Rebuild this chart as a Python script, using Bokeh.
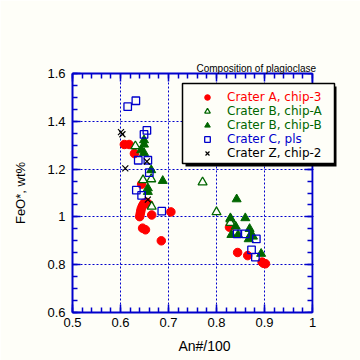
from bokeh.plotting import figure
from bokeh.models import (FixedTicker, LinearAxis, Range1d, Legend, LegendItem,
                          BoxAnnotation, CustomJSTickFormatter)
from bokeh.embed import file_html
from bokeh.resources import INLINE
import numpy as np

# ---- data ----
a_x = [0.608, 0.618, 0.629, 0.644, 0.640, 0.641, 0.642, 0.643, 0.645, 0.647, 0.649, 0.654, 0.659,
       0.665, 0.705, 0.646, 0.652, 0.685, 0.827, 0.844, 0.865, 0.895, 0.898, 0.902]
a_y = [1.303, 1.303, 1.265, 1.137, 1.001, 1.012, 1.022, 1.032, 1.043, 1.050, 1.057, 1.061, 1.053,
       1.008, 1.021, 0.953, 0.946, 0.900, 0.957, 0.851, 0.838, 0.811, 0.806, 0.804]

ba_x = [0.631, 0.647, 0.664, 0.665, 0.771, 0.800, 0.829, 0.829]
ba_y = [1.296, 1.154, 1.158, 1.043, 1.145, 1.020, 0.990, 0.975]

bb_x = [0.649, 0.649, 0.643, 0.649, 0.664, 0.688, 0.657, 0.657, 0.842, 0.860, 0.829, 0.840,
        0.831, 0.845, 0.869, 0.871, 0.867, 0.876, 0.893]
bb_y = [1.321, 1.303, 1.279, 1.268, 1.196, 1.151, 1.120, 1.105, 1.074, 0.995, 0.995, 0.960,
        0.925, 0.925, 0.950, 0.925, 0.907, 0.918, 0.846]

c_x = [0.615, 0.632, 0.655, 0.649, 0.637, 0.657, 0.660, 0.633, 0.644, 0.686, 0.843, 0.860,
       0.883, 0.873, 0.881]
c_y = [1.461, 1.486, 1.362, 1.345, 1.237, 1.237, 1.185, 1.112, 1.090, 1.024, 0.929, 0.929,
       0.908, 0.862, 0.832]

z_x = [0.601, 0.604, 0.610, 0.655, 0.657]
z_y = [1.355, 1.346, 1.203, 1.232, 1.072]

labels = ["Crater A, chip-3", "Crater B, chip-A", "Crater B, chip-B", "Crater C, pls", "Crater Z, chip-2"]

x_ticks = [0.5, 0.6, 0.7, 0.8, 0.9, 1.0]
x_tick_labels = ["0.5", "0.6", "0.7", "0.8", "0.9", "1"]
y_ticks = [0.6, 0.8, 1.0, 1.2, 1.4, 1.6]
y_tick_labels = ["0.6", "0.8", "1", "1.2", "1.4", "1.6"]

# ---- style ----
BG = "#fefef8"
BLUE = "#0000cc"
RED = "#ff0000"
GREEN = "#006600"
FONT = "Liberation Sans"
LEG_FONT = "DejaVu Sans"

# frame extends a little past x=1 so that the legend text (which overhangs the
# axes box) is not clipped; axes/grid are bounded to 0.5..1.0
p = figure(width=360, height=360,
           x_range=Range1d(0.5, 1.05), y_range=Range1d(0.6, 1.6),
           output_backend="svg", toolbar_location=None,
           min_border_left=72, min_border_right=24, min_border_top=73, min_border_bottom=48,
           background_fill_color=BG, border_fill_color=BG)
p.outline_line_color = None

p.title.text = "Composition of plagioclase"
p.title.align = "left"
p.title.offset = 124
p.title.text_font = FONT
p.title.text_font_size = "10px"
p.title.text_font_style = "normal"
p.title.text_color = "black"
p.title.standoff = 0

x_minor = [round(v, 3) for v in np.arange(0.5, 1.0001, 0.02)]
y_minor = [round(v, 3) for v in np.arange(0.6, 1.6001, 0.05)]
xt = FixedTicker(ticks=x_ticks, minor_ticks=x_minor)
yt = FixedTicker(ticks=y_ticks, minor_ticks=y_minor)


def style_axis(ax, ticker, overrides=None):
    ax.ticker = ticker
    ax.axis_line_color = BLUE
    ax.axis_line_width = 2
    ax.major_tick_line_color = BLUE
    ax.minor_tick_line_color = BLUE
    ax.major_tick_line_width = 1.5
    ax.minor_tick_line_width = 1.5
    ax.major_tick_in = 8
    ax.major_tick_out = 0
    ax.minor_tick_in = 5
    ax.minor_tick_out = 0
    ax.major_label_text_font = FONT
    ax.major_label_text_font_size = "13px"
    ax.major_label_text_color = "black"
    ax.axis_label_text_font = FONT
    ax.axis_label_text_font_style = "normal"
    ax.axis_label_text_color = "black"
    if overrides is not None:
        ax.major_label_overrides = overrides


xa = p.xaxis[0]
ya = p.yaxis[0]
style_axis(xa, xt, dict(zip(x_ticks, x_tick_labels)))
style_axis(ya, yt, dict(zip(y_ticks, y_tick_labels)))
xa.bounds = (0.5, 1.0)
xa.axis_label = "An#/100"
ya.axis_label = "FeO*, wt%"
xa.axis_label_text_font_size = "14px"
ya.axis_label_text_font_size = "13px"
xa.major_label_standoff = 5
ya.major_label_standoff = 7
xa.axis_label_standoff = 8
ya.axis_label_standoff = 16

top = LinearAxis(bounds=(0.5, 1.0))
right = LinearAxis(fixed_location=1.0)
style_axis(top, xt)
style_axis(right, yt)
for ax in (top, right):
    ax.formatter = CustomJSTickFormatter(code="return ''")
    ax.major_label_standoff = 0
p.add_layout(top, "above")
p.add_layout(right, "right")

for g in (p.xgrid[0], p.ygrid[0]):
    g.grid_line_color = BLUE
    g.grid_line_dash = "2 2"
    g.grid_line_width = 1
p.xgrid[0].ticker = xt
p.ygrid[0].ticker = yt

# ---- points ----
r_a = p.scatter(a_x, a_y, marker="circle", size=8.5, fill_color=RED, line_color=RED)
r_ba = p.scatter(ba_x, ba_y, marker="triangle", size=9, fill_color=BG, line_color=GREEN, line_width=1.3)
r_bb = p.scatter(bb_x, bb_y, marker="triangle", size=9, fill_color=GREEN, line_color=GREEN)
r_c = p.scatter(c_x, c_y, marker="square", size=7.5, fill_color=None, line_color=BLUE, line_width=1.3)
r_z = p.scatter(z_x, z_y, marker="x", size=8.5, line_color="black", line_width=1.2)

# hide the part of the frame beyond x = 1 (grid overhang)
cover = BoxAnnotation(left=1.0 + 1.2 / 480, fill_color=BG, fill_alpha=1, line_color=None)
p.add_layout(cover)

# ---- legend box with shadow ----
shadow = BoxAnnotation(left=185, right=337, top=86, bottom=166,
                       left_units="canvas", right_units="canvas", top_units="canvas", bottom_units="canvas",
                       fill_color="black", fill_alpha=1, line_color=None)
box = BoxAnnotation(left=182, right=334, top=83, bottom=163,
                    left_units="canvas", right_units="canvas", top_units="canvas", bottom_units="canvas",
                    fill_color=BG, fill_alpha=1, line_color="black", line_width=1.5, line_alpha=1)
p.add_layout(shadow)
p.add_layout(box)

colors = [RED, GREEN, GREEN, BLUE, "black"]
rends = [r_a, r_ba, r_bb, r_c, r_z]
for i, (r, lab, col) in enumerate(zip(rends, labels, colors)):
    yc = 96.7 + 14 * i  # row centre, canvas px from top
    lg = Legend(items=[LegendItem(label=lab, renderers=[r])],
                location=(125, 312 - yc - 7),
                label_text_color=col, label_text_font=LEG_FONT, label_text_font_size="12px",
                background_fill_alpha=0, border_line_color=None,
                padding=0, margin=0, spacing=0,
                glyph_width=20, glyph_height=14, label_height=14, label_standoff=10)
    p.add_layout(lg)

open("out.html", "w").write(file_html(p, INLINE))
